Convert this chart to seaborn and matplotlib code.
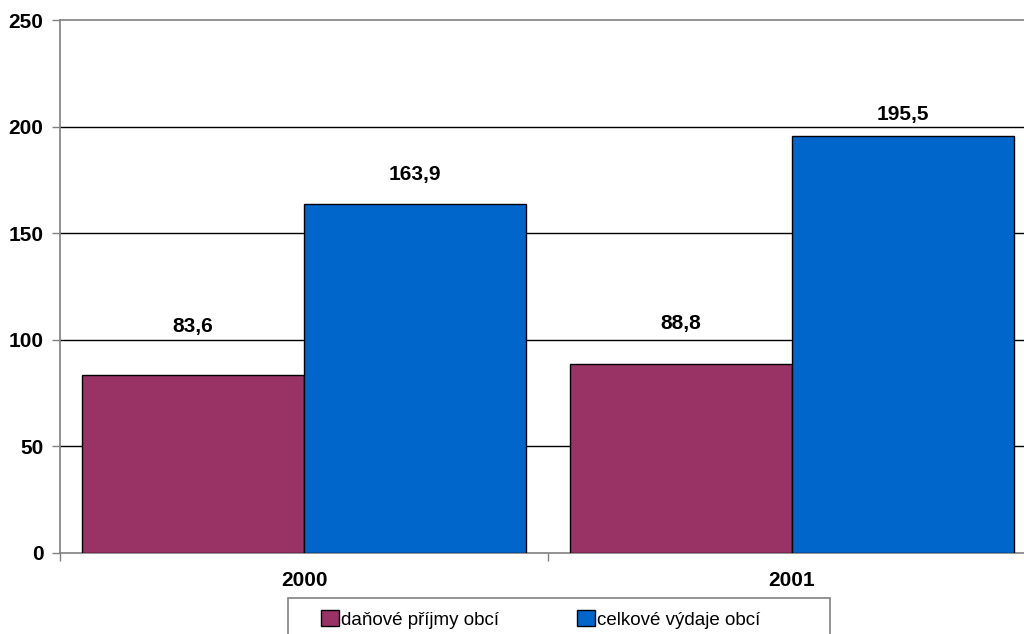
import matplotlib
matplotlib.use("Agg")
import matplotlib.pyplot as plt
from matplotlib.patches import Rectangle
import seaborn as sns
import pandas as pd

# Municipal finances by year
years = ["2000", "2001"]
series = ["daňové příjmy obcí", "celkové výdaje obcí"]
tax_income = [83.6, 88.8]
total_expenditure = [163.9, 195.5]
value_labels = {series[0]: ["83,6", "88,8"], series[1]: ["163,9", "195,5"]}

df = pd.DataFrame({
    "rok": years * 2,
    "ukazatel": [series[0]] * len(years) + [series[1]] * len(years),
    "hodnota": tax_income + total_expenditure,
})

sns.set_theme(style="white")
plt.rcParams["font.family"] = ["Liberation Sans", "DejaVu Sans"]
plt.rcParams["text.color"] = "black"

fig = plt.figure(figsize=(10.24, 6.34), dpi=100)
ax = fig.add_axes([60 / 1024, 81 / 634, 976 / 1024, 533 / 634])

palette = {series[0]: "#993366", series[1]: "#0066CC"}
sns.barplot(data=df, x="rok", y="hodnota", hue="ukazatel", order=years,
            hue_order=series, palette=palette, width=0.91, gap=0,
            edgecolor="black", linewidth=1, saturation=1, ax=ax, zorder=3)

ax.set_ylim(0, 250)
ax.set_xlim(-0.5, 1.5)
ax.set_yticks([0, 50, 100, 150, 200, 250])
ax.set_yticklabels(["0", "50", "100", "150", "200", "250"])
ax.set_xlabel("")
ax.set_ylabel("")

# Horizontal gridlines (interior only; outer ones drawn by spines)
ax.yaxis.grid(True, color="black", linewidth=1, zorder=1)
ax.set_axisbelow(True)
gls = ax.yaxis.get_gridlines()
gls[0].set_visible(False)
gls[-1].set_visible(False)

for side in ["left", "bottom", "top"]:
    ax.spines[side].set_visible(True)
    ax.spines[side].set_color("#808080")
    ax.spines[side].set_linewidth(1.2)
ax.spines["right"].set_visible(False)

# y ticks outward, x ticks at category boundaries
ax.tick_params(axis="y", which="major", direction="out", length=5.8, width=1,
               color="#808080", left=True, pad=6, labelsize=15)
ax.set_xticks([0, 1])
ax.set_xticklabels(years)
ax.tick_params(axis="x", which="major", length=0, pad=13, labelsize=15)
ax.set_xticks([-0.5, 0.5, 1.5], minor=True)
ax.tick_params(axis="x", which="minor", direction="out", length=5.8, width=1,
               color="#808080", bottom=True)
for lbl in ax.get_yticklabels() + ax.get_xticklabels():
    lbl.set_fontweight("bold")
    lbl.set_color("black")

# Value labels above the bars
pads = {series[0]: [28, 22], series[1]: [14, 9]}
for container, name in zip(ax.containers, series):
    for bar, text, pad in zip(container, value_labels[name], pads[name]):
        ax.annotate(text, (bar.get_x() + bar.get_width() / 2, bar.get_height()),
                    xytext=(0, pad), textcoords="offset points",
                    ha="center", va="bottom", fontsize=15,
                    fontweight="bold", color="black")

# Legend below the plot
if ax.get_legend() is not None:
    ax.get_legend().remove()
handles = [Rectangle((0, 0), 1, 1, facecolor=palette[s], edgecolor="black",
                     linewidth=1) for s in series]
leg = fig.legend(handles, series, loc="upper left",
                 bbox_to_anchor=(321 / 1024, 1 - 610 / 634), ncol=2,
                 frameon=False, fontsize=13.5, borderpad=0, borderaxespad=0,
                 handlelength=0.95, handleheight=0.95, handletextpad=0.1,
                 columnspacing=4.2)
for t in leg.get_texts():
    t.set_color("black")
fig.patches.append(Rectangle((288 / 1024, -0.02), 542 / 1024, 36 / 634 + 0.02,
                             transform=fig.transFigure, fill=False,
                             edgecolor="#808080", linewidth=1.2))

fig.savefig("out.png", dpi=100)
